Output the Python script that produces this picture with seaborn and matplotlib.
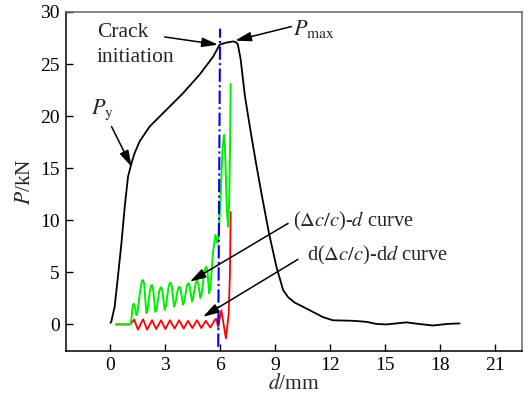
import matplotlib
matplotlib.use('Agg')
import matplotlib.pyplot as plt
import seaborn as sns
import pandas as pd

# load-displacement curve
d_load = [0.0, 0.05, 0.23, 0.41, 0.6, 0.78, 0.96, 1.1, 1.2, 1.33, 1.6, 2.14, 3.05, 3.96, 4.87, 5.6,
          5.96, 6.3, 6.69, 6.84, 6.95, 7.1, 7.33, 7.65, 7.97, 8.3, 8.65, 9.06, 9.42, 9.7, 10.05,
          10.5, 11.05, 11.6, 12.14, 13.24, 13.97, 14.5, 15.06, 15.6, 16.15, 16.8, 17.6, 18.4, 19.05]
load = [0.15, 0.3, 1.7, 4.6, 7.8, 11.3, 14.2, 15.15, 15.8, 16.5, 17.6, 19.0, 20.6, 22.2, 24.0, 25.7,
        26.86, 27.05, 27.17, 27.1, 26.9, 25.5, 22.0, 18.5, 15.2, 12.0, 8.75, 5.5, 3.3, 2.6, 2.1,
        1.7, 1.2, 0.7, 0.4, 0.35, 0.25, 0.05, 0.0, 0.1, 0.2, 0.05, -0.1, 0.05, 0.1]

# (dc/c)-d curve
d_dc = [0.35, 1.09, 1.15, 1.22, 1.27, 1.32, 1.42, 1.48, 1.62, 1.72, 1.78, 1.84, 1.96, 2.02,
        2.15, 2.23, 2.27, 2.33, 2.45, 2.52, 2.66, 2.74, 2.78, 2.84, 2.96, 3.03, 3.17, 3.25,
        3.29, 3.35, 3.47, 3.54, 3.67, 3.74, 3.78, 3.84, 3.96, 4.03, 4.16, 4.23, 4.27, 4.33,
        4.45, 4.52, 4.64, 4.7, 4.74, 4.8, 4.91, 4.98, 5.12, 5.2, 5.24, 5.3, 5.38, 5.45, 5.6,
        5.73, 5.84, 5.91, 6.0, 6.12, 6.2, 6.25, 6.35, 6.42, 6.48, 6.53, 6.56]
dc = [0.0, 0.0, 0.6, 1.8, 2.0, 1.7, 0.9, 1.2, 3.2, 4.2, 4.26, 3.9, 1.1, 1.3,
      3.2, 3.75, 3.78, 3.4, 1.2, 1.5, 3.2, 3.55, 3.55, 3.1, 1.4, 1.8, 3.6, 4.0,
      4.0, 3.6, 1.7, 2.0, 3.3, 3.6, 3.6, 3.2, 1.9, 2.2, 3.6, 3.94, 3.94, 3.6,
      2.2, 2.6, 3.9, 4.2, 4.2, 3.8, 2.5, 3.0, 5.0, 5.5, 5.5, 5.0, 3.0, 3.5, 7.0,
      8.6, 7.8, 8.75, 12.0, 17.0, 18.2, 17.0, 11.0, 9.4, 12.0, 18.0, 23.1]

# d(dc/c)-dd curve
d_ddc = [0.3, 1.05, 1.3, 1.5, 1.78, 2.0, 2.27, 2.5, 2.76, 3.0, 3.25, 3.5, 3.74, 4.0, 4.23,
         4.47, 4.72, 4.96, 5.2, 5.45, 5.7, 5.78, 5.87, 6.05, 6.3, 6.45, 6.52, 6.56]
ddc = [0.0, 0.0, 0.45, -0.5, 0.5, -0.5, 0.4, -0.45, 0.4, -0.45, 0.4, -0.4, 0.4, -0.4, 0.35,
       -0.35, 0.4, -0.35, 0.35, -0.3, 0.45, 0.55, -0.25, 1.37, -1.35, 1.0, 5.0, 10.8]

# crack initiation line
d_crack = [5.88, 5.98]
p_crack = [-2.15, 28.4]

x_ticks = [0, 3, 6, 9, 12, 15, 18, 21]
y_ticks = [0, 5, 10, 15, 20, 25, 30]

sns.set_style('ticks')
plt.rcParams['font.family'] = ['Liberation Serif', 'DejaVu Serif']
plt.rcParams['mathtext.fontset'] = 'stix'
plt.rcParams['font.size'] = 14
plt.rcParams['lines.solid_joinstyle'] = 'round'

fig = plt.figure(figsize=(5.31, 3.99), dpi=100)
ax = fig.add_axes([0.1234, 0.1203, 0.8596, 0.8497])

sns.lineplot(data=pd.DataFrame({'d': d_load, 'P': load}), x='d', y='P', sort=False,
             estimator=None, color='black', lw=1.3, ax=ax)
sns.lineplot(data=pd.DataFrame({'d': d_ddc, 'v': ddc}), x='d', y='v', sort=False,
             estimator=None, color='#ff0000', lw=1.3, ax=ax)
sns.lineplot(data=pd.DataFrame({'d': d_dc, 'v': dc}), x='d', y='v', sort=False,
             estimator=None, color='#00ee00', lw=1.4, ax=ax)
ax.plot(d_crack, p_crack, color='#0000ff', lw=1.5, ls='-.')

ax.set_xlim(-2.45, 22.45)
ax.set_ylim(-2.55, 30)
ax.set_xticks(x_ticks)
ax.set_yticks(y_ticks)
ax.tick_params(direction='in', length=5, width=1, labelsize=14, colors='black', pad=4)
for side in ['left', 'bottom']:
    ax.spines[side].set_color('black')
    ax.spines[side].set_linewidth(1.1)
for side in ['top', 'right']:
    ax.spines[side].set_color('#666666')
    ax.spines[side].set_linewidth(1.1)

ax.set_xlabel(r'$d$/mm', fontsize=15.5, labelpad=0)
ax.set_ylabel(r'$P$/kN', fontsize=15.5, labelpad=4)

arrow = dict(arrowstyle='-|>,head_length=0.75,head_width=0.22', color='black', lw=1.1,
             shrinkA=0, shrinkB=0)

ax.text(-0.75, 28.0, 'Crack', fontsize=15.5, ha='left', va='center')
ax.text(-0.75, 25.6, 'initiation', fontsize=15.5, ha='left', va='center')
ax.annotate('', xy=(5.87, 26.86), xytext=(2.96, 27.6), arrowprops=arrow, fontsize=13)

ax.text(9.95, 28.4, r'$P_{\rm max}$', fontsize=16, ha='left', va='center')
ax.annotate('', xy=(6.8, 27.25), xytext=(9.87, 28.6), arrowprops=arrow, fontsize=13)

ax.text(-1.05, 20.6, r'$P_{\rm y}$', fontsize=16, ha='left', va='center')
ax.annotate('', xy=(1.15, 15.15), xytext=(0.06, 19.0), arrowprops=arrow, fontsize=13)

ax.text(9.95, 9.85, r'($\Delta c/c$)-$d$ curve', fontsize=14.7, ha='left', va='center')
ax.annotate('', xy=(4.33, 4.1), xytext=(9.69, 9.7), arrowprops=arrow, fontsize=13)

ax.text(10.7, 6.65, r'd($\Delta c/c$)-d$d$ curve', fontsize=14.7, ha='left', va='center')
ax.annotate('', xy=(5.05, 0.73), xytext=(10.23, 6.25), arrowprops=arrow, fontsize=13)

fig.savefig('out.png', dpi=100)
